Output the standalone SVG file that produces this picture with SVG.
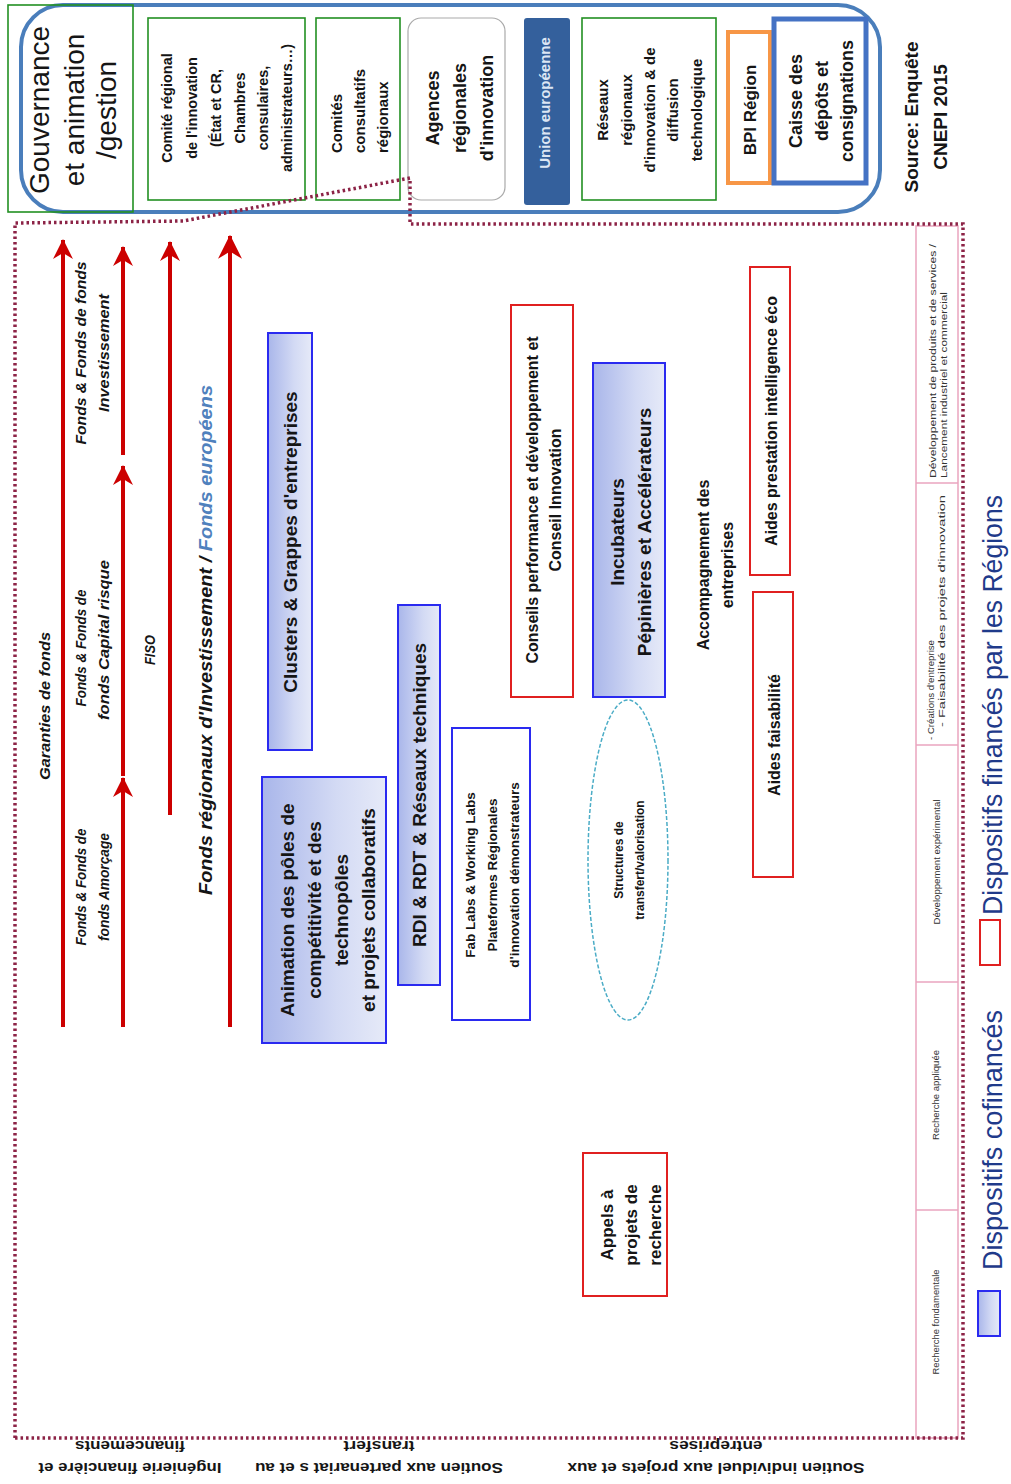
<svg xmlns="http://www.w3.org/2000/svg" width="1011" height="1484" viewBox="0 0 1011 1484">
<style>
.t{font-family:"Liberation Sans",Arial,sans-serif;fill:#151515}
.b{font-weight:bold}
.i{font-style:italic}
.g{fill:none;stroke:#229022;stroke-width:1.6}
.r{fill:#fff;stroke:#e02020;stroke-width:2}
.bl{fill:url(#grad);stroke:#2a2af0;stroke-width:2}
.arr{stroke:#cc0000;stroke-width:4;fill:none}
.stage{font-family:"Liberation Sans",Arial,sans-serif;font-size:8.5px;fill:#333}
</style>
<defs>
<linearGradient id="grad" x1="0" y1="0" x2="1" y2="0">
<stop offset="0" stop-color="#a9b6ea"/>
<stop offset="0.6" stop-color="#d3daf4"/>
<stop offset="1" stop-color="#e6eaf8"/>
</linearGradient>
<marker id="ah" viewBox="0 0 20 20" refX="19" refY="10" markerWidth="20" markerHeight="22" markerUnits="userSpaceOnUse" orient="auto">
<path d="M0,0 L20,10 L0,20 L6,10 Z" fill="#cc0000"/>
</marker>
<marker id="ah2" viewBox="0 0 20 20" refX="19" refY="10" markerWidth="24" markerHeight="26" markerUnits="userSpaceOnUse" orient="auto">
<path d="M0,0 L20,10 L0,20 L6,10 Z" fill="#cc0000"/>
</marker>
</defs>
<rect width="1011" height="1484" fill="#fff"/>

<!-- top bar -->
<g id="top-bar">
<rect x="21" y="5" width="859" height="207" rx="42" fill="#fff" stroke="#4a7ebb" stroke-width="4"/>
</g>
<g id="gouvernance">
<rect class="g" x="8" y="5" width="125" height="207"/>
<text class="t" font-size="28" text-anchor="middle" transform="translate(0,110) rotate(-90)"><tspan x="0" y="49">Gouvernance</tspan><tspan x="0" y="84">et animation</tspan><tspan x="0" y="116">/gestion</tspan></text>
</g>
<g id="comite-regional">
<rect class="g" x="148" y="18" width="157" height="182" fill="#fff"/>
<text class="t b" font-size="14.5" text-anchor="middle" transform="translate(0,108) rotate(-90)"><tspan x="0" y="172">Comité régional</tspan><tspan x="0" y="197">de l'innovation</tspan><tspan x="0" y="221">(État et CR,</tspan><tspan x="0" y="245">Chambres</tspan><tspan x="0" y="268">consulaires,</tspan><tspan x="0" y="292">administrateurs…)</tspan></text>
</g>
<g id="comites-consultatifs">
<rect class="g" x="316" y="18" width="84" height="182"/>
<text class="t b" font-size="15" text-anchor="start" transform="translate(0,153) rotate(-90)"><tspan x="0" y="342">Comités</tspan><tspan x="0" y="365">consultatifs</tspan><tspan x="0" y="388">régionaux</tspan></text>
</g>
<g id="agences">
<rect x="408" y="18" width="97" height="182" rx="13" fill="#fff" stroke="#aaaaaa" stroke-width="1.2"/>
<text class="t b" font-size="18" text-anchor="middle" transform="translate(0,108) rotate(-90)"><tspan x="0" y="439">Agences</tspan><tspan x="0" y="466">régionales</tspan><tspan x="0" y="493">d'innovation</tspan></text>
</g>
<g id="union-europeenne">
<rect x="524" y="18" width="46" height="187" rx="3" fill="#34609c"/>
<text class="t b" font-size="15" text-anchor="middle" fill="#dce6f4" style="fill:#dce6f4" transform="translate(0,103) rotate(-90)"><tspan x="0" y="550">Union européenne</tspan></text>
</g>
<g id="reseaux">
<rect class="g" x="582" y="18" width="134" height="182"/>
<text class="t b" font-size="15" text-anchor="middle" transform="translate(0,110) rotate(-90)"><tspan x="0" y="608">Réseaux</tspan><tspan x="0" y="632">régionaux</tspan><tspan x="0" y="655">d'innovation  &amp; de</tspan><tspan x="0" y="678">diffusion</tspan><tspan x="0" y="702">technologique</tspan></text>
</g>
<g id="bpi">
<rect x="728" y="32" width="42" height="151" fill="#fff" stroke="#f79646" stroke-width="4"/>
<text class="t b" font-size="17" text-anchor="middle" transform="translate(0,110) rotate(-90)"><tspan x="0" y="756">BPI Région</tspan></text>
</g>
<g id="caisse">
<rect x="774" y="19" width="92" height="164" fill="#fff" stroke="#4472c4" stroke-width="5"/>
<text class="t b" font-size="18" text-anchor="middle" transform="translate(0,101) rotate(-90)"><tspan x="0" y="802">Caisse des</tspan><tspan x="0" y="828">dépôts et</tspan><tspan x="0" y="853">consignations</tspan></text>
</g>
<g id="source">
<text class="t b" font-size="19" text-anchor="middle" transform="translate(0,117) rotate(-90)"><tspan x="0" y="918">Source:  Enquête</tspan><tspan x="0" y="947">CNEPI 2015</tspan></text>
</g>

<!-- stage strip -->
<g id="stages">
<rect x="916" y="226" width="42" height="1212" fill="#fff" stroke="#eaa5bf" stroke-width="1.5"/>
<g stroke="#eaa5bf" stroke-width="1.5">
<line x1="916" y1="483" x2="958" y2="483"/>
<line x1="916" y1="745" x2="958" y2="745"/>
<line x1="916" y1="982" x2="958" y2="982"/>
<line x1="916" y1="1210" x2="958" y2="1210"/>
</g>
<text class="stage" text-anchor="start" transform="translate(0,478) rotate(-90)"><tspan x="0" y="936" textLength="234" lengthAdjust="spacingAndGlyphs">Développement de produits et de services /</tspan><tspan x="0" y="947" textLength="186" lengthAdjust="spacingAndGlyphs">Lancement industriel et commercial</tspan></text>
<text class="stage" text-anchor="start" transform="translate(0,740) rotate(-90)"><tspan x="0" y="934" textLength="100" lengthAdjust="spacingAndGlyphs">- Créations d'entreprise</tspan><tspan x="13" y="945" textLength="232" lengthAdjust="spacingAndGlyphs">- Faisabilité des projets d'innovation</tspan></text>
<text class="stage" text-anchor="middle" transform="translate(0,862) rotate(-90)"><tspan x="0" y="940" textLength="125" lengthAdjust="spacingAndGlyphs">Développement expérimental</tspan></text>
<text class="stage" text-anchor="middle" transform="translate(0,1095) rotate(-90)"><tspan x="0" y="939" textLength="90" lengthAdjust="spacingAndGlyphs">Recherche appliquée</tspan></text>
<text class="stage" text-anchor="middle" transform="translate(0,1322) rotate(-90)"><tspan x="0" y="939" textLength="105" lengthAdjust="spacingAndGlyphs">Recherche fondamentale</tspan></text>
</g>

<!-- connectors: financing arrows -->
<g id="connectors">
<line class="arr" x1="63" y1="1027" x2="63" y2="240" marker-end="url(#ah)"/>
<line class="arr" x1="123" y1="1027" x2="123" y2="778" marker-end="url(#ah)"/>
<line class="arr" x1="123" y1="776" x2="123" y2="466" marker-end="url(#ah)"/>
<line class="arr" x1="123" y1="455" x2="123" y2="247" marker-end="url(#ah)"/>
<line class="arr" x1="170" y1="815" x2="170" y2="242" marker-end="url(#ah)"/>
<line class="arr" x1="230" y1="1027" x2="230" y2="236" stroke-width="5" marker-end="url(#ah2)"/>
</g>

<g id="arrow-labels">
<text class="t b i" font-size="14" text-anchor="middle" transform="translate(0,706) rotate(-90)"><tspan x="0" y="50" textLength="148" lengthAdjust="spacingAndGlyphs">Garanties de fonds</tspan></text>
<text class="t b i" font-size="14" text-anchor="middle" transform="translate(0,887) rotate(-90)"><tspan x="0" y="86" textLength="117" lengthAdjust="spacingAndGlyphs">Fonds &amp; Fonds de</tspan><tspan x="0" y="109" textLength="108" lengthAdjust="spacingAndGlyphs">fonds Amorçage</tspan></text>
<text class="t b i" font-size="14" text-anchor="middle" transform="translate(0,640) rotate(-90)"><tspan x="-8" y="86" textLength="117" lengthAdjust="spacingAndGlyphs">Fonds &amp; Fonds de</tspan><tspan x="0" y="109" textLength="160" lengthAdjust="spacingAndGlyphs">fonds Capital risque</tspan></text>
<text class="t b i" font-size="14" text-anchor="middle" transform="translate(0,650) rotate(-90)"><tspan x="0" y="155" textLength="30" lengthAdjust="spacingAndGlyphs">FISO</tspan></text>
<text class="t b i" font-size="14" text-anchor="middle" transform="translate(0,353) rotate(-90)"><tspan x="0" y="86" textLength="183" lengthAdjust="spacingAndGlyphs">Fonds &amp; Fonds de fonds</tspan><tspan x="0" y="109" textLength="118" lengthAdjust="spacingAndGlyphs">Investissement</tspan></text>
<text class="t b i" font-size="18" text-anchor="middle" transform="translate(0,640) rotate(-90)"><tspan x="0" y="212" textLength="510" lengthAdjust="spacingAndGlyphs">Fonds régionaux d'Investissement / <tspan style="fill:#4f81bd">Fonds européens</tspan></tspan></text>
</g>

<!-- nodes in main frame -->
<g id="clusters">
<rect class="bl" x="268" y="333" width="44" height="417"/>
<text class="t b" font-size="19" text-anchor="middle" transform="translate(0,542) rotate(-90)"><tspan x="0" y="297">Clusters &amp; Grappes d'entreprises</tspan></text>
</g>
<g id="animation-poles">
<rect class="bl" x="262" y="777" width="124" height="266"/>
<text class="t b" font-size="19" text-anchor="middle" transform="translate(0,910) rotate(-90)"><tspan x="0" y="294">Animation des pôles de</tspan><tspan x="0" y="321">compétitivité et des</tspan><tspan x="0" y="348">technopôles</tspan><tspan x="0" y="375">et projets collaboratifs</tspan></text>
</g>
<g id="rdi">
<rect class="bl" x="398" y="605" width="42" height="380"/>
<text class="t b" font-size="19" text-anchor="middle" transform="translate(0,795) rotate(-90)"><tspan x="0" y="426">RDI &amp; RDT &amp; Réseaux techniques</tspan></text>
</g>
<g id="fablabs">
<rect x="452" y="728" width="78" height="292" fill="#fff" stroke="#2a2af0" stroke-width="2"/>
<text class="t b" font-size="13.5" text-anchor="middle" transform="translate(0,875) rotate(-90)"><tspan x="0" y="475">Fab Labs &amp; Working Labs</tspan><tspan x="0" y="497">Plateformes Régionales</tspan><tspan x="0" y="519">d'innovation démonstrateurs</tspan></text>
</g>
<g id="conseils">
<rect class="r" x="511" y="305" width="62" height="392"/>
<text class="t b" font-size="16" text-anchor="middle" transform="translate(0,500) rotate(-90)"><tspan x="0" y="538">Conseils performance et développement  et</tspan><tspan x="0" y="561">Conseil Innovation</tspan></text>
</g>
<g id="incubateurs">
<rect class="bl" x="593" y="363" width="72" height="334"/>
<text class="t b" font-size="19" text-anchor="middle" transform="translate(0,532) rotate(-90)"><tspan x="0" y="624">Incubateurs</tspan><tspan x="0" y="651">Pépinières et Accélérateurs</tspan></text>
</g>
<g id="structures-transfert">
<ellipse cx="628" cy="860" rx="40" ry="160" fill="#fff" stroke="#4bacc6" stroke-width="1.5" stroke-dasharray="4 2"/>
<text class="t b" font-size="12" text-anchor="middle" transform="translate(0,860) rotate(-90)"><tspan x="0" y="623">Structures de</tspan><tspan x="0" y="644">transfert/valorisation</tspan></text>
</g>
<g id="accompagnement">
<text class="t b" font-size="16" text-anchor="middle" transform="translate(0,565) rotate(-90)"><tspan x="0" y="709">Accompagnement des</tspan><tspan x="0" y="733">entreprises</tspan></text>
</g>
<g id="aides-prestation">
<rect class="r" x="750" y="267" width="40" height="308"/>
<text class="t b" font-size="16" text-anchor="middle" transform="translate(0,421) rotate(-90)"><tspan x="0" y="777">Aides prestation intelligence éco</tspan></text>
</g>
<g id="aides-faisabilite">
<rect class="r" x="753" y="592" width="40" height="285"/>
<text class="t b" font-size="16" text-anchor="middle" transform="translate(0,735) rotate(-90)"><tspan x="0" y="780">Aides faisabilité</tspan></text>
</g>
<g id="appels">
<rect class="r" x="583" y="1153" width="84" height="143"/>
<text class="t b" font-size="17" text-anchor="middle" transform="translate(0,1225) rotate(-90)"><tspan x="0" y="613">Appels à</tspan><tspan x="0" y="637">projets  de</tspan><tspan x="0" y="661">recherche</tspan></text>
</g>

<!-- main dotted frame -->
<g id="frame">
<path d="M15,1438 L15,223 L183,221 L410,178 L410,224 L963,224 L963,1438 Z" fill="none" stroke="#8c2346" stroke-width="3.5" stroke-dasharray="2.5 3"/>
</g>

<!-- bottom axis labels (upside down) -->
<g id="axis-labels">
<text class="t b" font-size="14" text-anchor="middle" transform="translate(130,0) rotate(180)"><tspan x="0" y="-1463" textLength="183" lengthAdjust="spacingAndGlyphs">Ingénierie financière et</tspan><tspan x="0" y="-1441" textLength="110" lengthAdjust="spacingAndGlyphs">financements</tspan></text>
<text class="t b" font-size="14" text-anchor="middle" transform="translate(379,0) rotate(180)"><tspan x="0" y="-1463" textLength="248" lengthAdjust="spacingAndGlyphs">Soutien aux partenariat s et au</tspan><tspan x="0" y="-1441" textLength="71" lengthAdjust="spacingAndGlyphs">transfert</tspan></text>
<text class="t b" font-size="14" text-anchor="middle" transform="translate(716,0) rotate(180)"><tspan x="0" y="-1463" textLength="297" lengthAdjust="spacingAndGlyphs">Soutien individuel aux projets et aux</tspan><tspan x="0" y="-1441" textLength="93" lengthAdjust="spacingAndGlyphs">entreprises</tspan></text>
</g>

<!-- legend -->
<g id="legend">
<rect x="978" y="1291" width="22" height="45" fill="url(#grad)" stroke="#2a2af0" stroke-width="2"/>
<text class="t" font-size="27" text-anchor="start" style="fill:#1f3a8a" transform="translate(0,1270) rotate(-90)"><tspan x="0" y="1002" textLength="260" lengthAdjust="spacingAndGlyphs">Dispositifs cofinancés</tspan></text>
<rect x="980" y="920" width="20" height="45" fill="#fff" stroke="#e02020" stroke-width="2"/>
<text class="t" font-size="27" text-anchor="start" style="fill:#1f3a8a" transform="translate(0,915) rotate(-90)"><tspan x="0" y="1002" textLength="420" lengthAdjust="spacingAndGlyphs">Dispositifs financés par les Régions</tspan></text>
</g>
</svg>
